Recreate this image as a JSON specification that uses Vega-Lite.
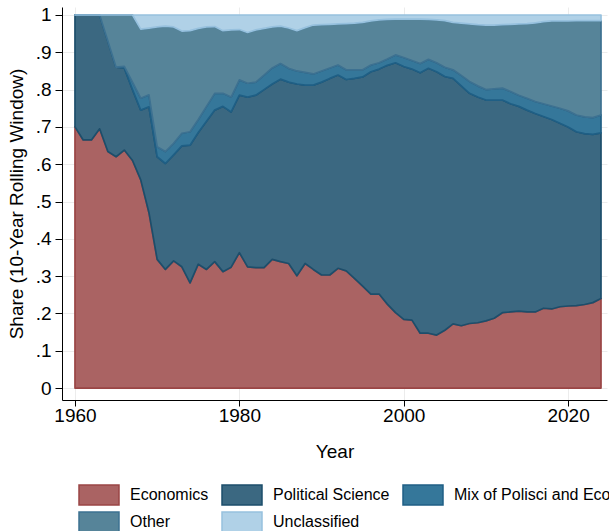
{
  "$schema": "https://vega.github.io/schema/vega-lite/v6.json",
  "autosize": {"type": "none"},
  "width": 545,
  "height": 393,
  "padding": {"left": 62, "top": 7, "right": 2, "bottom": 131},
  "background": "white",
  "config": {
    "view": {"stroke": null},
    "font": "Liberation Sans",
    "axis": {"labelFont": "Liberation Sans", "titleFont": "Liberation Sans", "labelColor": "black", "titleColor": "black", "titleFontWeight": "normal", "domainColor": "black", "tickColor": "black", "gridColor": "#ececec", "gridWidth": 1}
  },
  "data": {"values": [
    {"year":1960,"Economics":0.70,"Political Science":0.30,"Mix of Polisci and Eco":0,"Other":0,"Unclassified":0},
    {"year":1961,"Economics":0.665,"Political Science":0.335,"Mix of Polisci and Eco":0,"Other":0,"Unclassified":0},
    {"year":1962,"Economics":0.665,"Political Science":0.335,"Mix of Polisci and Eco":0,"Other":0,"Unclassified":0},
    {"year":1963,"Economics":0.695,"Political Science":0.305,"Mix of Polisci and Eco":0,"Other":0,"Unclassified":0},
    {"year":1964,"Economics":0.634,"Political Science":0.296,"Mix of Polisci and Eco":0,"Other":0.07,"Unclassified":0},
    {"year":1965,"Economics":0.62,"Political Science":0.24,"Mix of Polisci and Eco":0,"Other":0.14,"Unclassified":0},
    {"year":1966,"Economics":0.638,"Political Science":0.22,"Mix of Polisci and Eco":0.004,"Other":0.138,"Unclassified":0},
    {"year":1967,"Economics":0.61,"Political Science":0.19,"Mix of Polisci and Eco":0.02,"Other":0.18,"Unclassified":0},
    {"year":1968,"Economics":0.558,"Political Science":0.187,"Mix of Polisci and Eco":0.032,"Other":0.185,"Unclassified":0.038},
    {"year":1969,"Economics":0.47,"Political Science":0.284,"Mix of Polisci and Eco":0.032,"Other":0.179,"Unclassified":0.035},
    {"year":1970,"Economics":0.345,"Political Science":0.275,"Mix of Polisci and Eco":0.027,"Other":0.321,"Unclassified":0.032},
    {"year":1971,"Economics":0.318,"Political Science":0.284,"Mix of Polisci and Eco":0.032,"Other":0.336,"Unclassified":0.03},
    {"year":1972,"Economics":0.341,"Political Science":0.284,"Mix of Polisci and Eco":0.031,"Other":0.312,"Unclassified":0.032},
    {"year":1973,"Economics":0.325,"Political Science":0.324,"Mix of Polisci and Eco":0.034,"Other":0.274,"Unclassified":0.043},
    {"year":1974,"Economics":0.282,"Political Science":0.369,"Mix of Polisci and Eco":0.036,"Other":0.271,"Unclassified":0.042},
    {"year":1975,"Economics":0.332,"Political Science":0.353,"Mix of Polisci and Eco":0.035,"Other":0.244,"Unclassified":0.036},
    {"year":1976,"Economics":0.318,"Political Science":0.397,"Mix of Polisci and Eco":0.04,"Other":0.213,"Unclassified":0.032},
    {"year":1977,"Economics":0.339,"Political Science":0.406,"Mix of Polisci and Eco":0.045,"Other":0.179,"Unclassified":0.031},
    {"year":1978,"Economics":0.312,"Political Science":0.443,"Mix of Polisci and Eco":0.035,"Other":0.168,"Unclassified":0.042},
    {"year":1979,"Economics":0.324,"Political Science":0.416,"Mix of Polisci and Eco":0.04,"Other":0.18,"Unclassified":0.04},
    {"year":1980,"Economics":0.363,"Political Science":0.422,"Mix of Polisci and Eco":0.041,"Other":0.135,"Unclassified":0.039},
    {"year":1981,"Economics":0.325,"Political Science":0.455,"Mix of Polisci and Eco":0.037,"Other":0.136,"Unclassified":0.047},
    {"year":1982,"Economics":0.323,"Political Science":0.462,"Mix of Polisci and Eco":0.035,"Other":0.14,"Unclassified":0.04},
    {"year":1983,"Economics":0.323,"Political Science":0.477,"Mix of Polisci and Eco":0.039,"Other":0.125,"Unclassified":0.036},
    {"year":1984,"Economics":0.345,"Political Science":0.47,"Mix of Polisci and Eco":0.043,"Other":0.11,"Unclassified":0.032},
    {"year":1985,"Economics":0.339,"Political Science":0.489,"Mix of Polisci and Eco":0.042,"Other":0.10,"Unclassified":0.03},
    {"year":1986,"Economics":0.334,"Political Science":0.486,"Mix of Polisci and Eco":0.037,"Other":0.108,"Unclassified":0.035},
    {"year":1987,"Economics":0.301,"Political Science":0.514,"Mix of Polisci and Eco":0.035,"Other":0.108,"Unclassified":0.042},
    {"year":1988,"Economics":0.334,"Political Science":0.478,"Mix of Polisci and Eco":0.034,"Other":0.12,"Unclassified":0.034},
    {"year":1989,"Economics":0.318,"Political Science":0.494,"Mix of Polisci and Eco":0.03,"Other":0.131,"Unclassified":0.027},
    {"year":1990,"Economics":0.303,"Political Science":0.517,"Mix of Polisci and Eco":0.03,"Other":0.124,"Unclassified":0.026},
    {"year":1991,"Economics":0.303,"Political Science":0.527,"Mix of Polisci and Eco":0.028,"Other":0.117,"Unclassified":0.025},
    {"year":1992,"Economics":0.321,"Political Science":0.518,"Mix of Polisci and Eco":0.027,"Other":0.11,"Unclassified":0.024},
    {"year":1993,"Economics":0.314,"Political Science":0.513,"Mix of Polisci and Eco":0.026,"Other":0.124,"Unclassified":0.023},
    {"year":1994,"Economics":0.294,"Political Science":0.536,"Mix of Polisci and Eco":0.023,"Other":0.125,"Unclassified":0.022},
    {"year":1995,"Economics":0.273,"Political Science":0.561,"Mix of Polisci and Eco":0.019,"Other":0.127,"Unclassified":0.02},
    {"year":1996,"Economics":0.252,"Political Science":0.596,"Mix of Polisci and Eco":0.018,"Other":0.118,"Unclassified":0.016},
    {"year":1997,"Economics":0.252,"Political Science":0.603,"Mix of Polisci and Eco":0.017,"Other":0.115,"Unclassified":0.013},
    {"year":1998,"Economics":0.225,"Political Science":0.64,"Mix of Polisci and Eco":0.017,"Other":0.106,"Unclassified":0.012},
    {"year":1999,"Economics":0.202,"Political Science":0.67,"Mix of Polisci and Eco":0.021,"Other":0.096,"Unclassified":0.011},
    {"year":2000,"Economics":0.184,"Political Science":0.678,"Mix of Polisci and Eco":0.024,"Other":0.103,"Unclassified":0.011},
    {"year":2001,"Economics":0.182,"Political Science":0.673,"Mix of Polisci and Eco":0.023,"Other":0.111,"Unclassified":0.011},
    {"year":2002,"Economics":0.147,"Political Science":0.698,"Mix of Polisci and Eco":0.025,"Other":0.119,"Unclassified":0.011},
    {"year":2003,"Economics":0.147,"Political Science":0.71,"Mix of Polisci and Eco":0.024,"Other":0.107,"Unclassified":0.012},
    {"year":2004,"Economics":0.142,"Political Science":0.706,"Mix of Polisci and Eco":0.024,"Other":0.115,"Unclassified":0.013},
    {"year":2005,"Economics":0.155,"Political Science":0.68,"Mix of Polisci and Eco":0.025,"Other":0.125,"Unclassified":0.015},
    {"year":2006,"Economics":0.172,"Political Science":0.658,"Mix of Polisci and Eco":0.023,"Other":0.127,"Unclassified":0.02},
    {"year":2007,"Economics":0.167,"Political Science":0.643,"Mix of Polisci and Eco":0.028,"Other":0.14,"Unclassified":0.022},
    {"year":2008,"Economics":0.173,"Political Science":0.617,"Mix of Polisci and Eco":0.032,"Other":0.154,"Unclassified":0.024},
    {"year":2009,"Economics":0.175,"Political Science":0.605,"Mix of Polisci and Eco":0.03,"Other":0.164,"Unclassified":0.026},
    {"year":2010,"Economics":0.18,"Political Science":0.592,"Mix of Polisci and Eco":0.028,"Other":0.173,"Unclassified":0.027},
    {"year":2011,"Economics":0.187,"Political Science":0.585,"Mix of Polisci and Eco":0.03,"Other":0.171,"Unclassified":0.027},
    {"year":2012,"Economics":0.202,"Political Science":0.57,"Mix of Polisci and Eco":0.032,"Other":0.17,"Unclassified":0.026},
    {"year":2013,"Economics":0.204,"Political Science":0.558,"Mix of Polisci and Eco":0.033,"Other":0.18,"Unclassified":0.025},
    {"year":2014,"Economics":0.206,"Political Science":0.549,"Mix of Polisci and Eco":0.03,"Other":0.191,"Unclassified":0.024},
    {"year":2015,"Economics":0.204,"Political Science":0.541,"Mix of Polisci and Eco":0.032,"Other":0.20,"Unclassified":0.023},
    {"year":2016,"Economics":0.204,"Political Science":0.532,"Mix of Polisci and Eco":0.032,"Other":0.211,"Unclassified":0.021},
    {"year":2017,"Economics":0.214,"Political Science":0.514,"Mix of Polisci and Eco":0.034,"Other":0.22,"Unclassified":0.018},
    {"year":2018,"Economics":0.212,"Political Science":0.508,"Mix of Polisci and Eco":0.036,"Other":0.228,"Unclassified":0.016},
    {"year":2019,"Economics":0.218,"Political Science":0.492,"Mix of Polisci and Eco":0.04,"Other":0.234,"Unclassified":0.016},
    {"year":2020,"Economics":0.22,"Political Science":0.48,"Mix of Polisci and Eco":0.043,"Other":0.241,"Unclassified":0.016},
    {"year":2021,"Economics":0.221,"Political Science":0.466,"Mix of Polisci and Eco":0.045,"Other":0.253,"Unclassified":0.015},
    {"year":2022,"Economics":0.224,"Political Science":0.458,"Mix of Polisci and Eco":0.045,"Other":0.258,"Unclassified":0.015},
    {"year":2023,"Economics":0.229,"Political Science":0.451,"Mix of Polisci and Eco":0.045,"Other":0.26,"Unclassified":0.015},
    {"year":2024,"Economics":0.24,"Political Science":0.444,"Mix of Polisci and Eco":0.048,"Other":0.253,"Unclassified":0.015}
  ]},
  "transform": [
    {"fold": ["Economics", "Political Science", "Mix of Polisci and Eco", "Other", "Unclassified"], "as": ["field", "share"]},
    {"lookup": "field", "from": {"data": {"values": [
      {"field": "Economics", "rank": 1},
      {"field": "Political Science", "rank": 2},
      {"field": "Mix of Polisci and Eco", "rank": 3},
      {"field": "Other", "rank": 4},
      {"field": "Unclassified", "rank": 5}
    ]}, "key": "field", "fields": ["rank"]}}
  ],
  "mark": {"type": "area", "interpolate": "linear", "opacity": 1, "strokeWidth": 1.7, "strokeJoin": "round"},
  "encoding": {
    "x": {
      "field": "year", "type": "quantitative",
      "scale": {"domain": [1958.42, 2024.73], "nice": false, "zero": false},
      "axis": {"values": [1960, 1980, 2000, 2020], "format": "d", "title": "Year", "labelFontSize": 19, "titleFontSize": 19, "tickSize": 6, "labelPadding": 0, "titlePadding": 17, "grid": true}
    },
    "y": {
      "field": "share", "type": "quantitative", "stack": "zero",
      "scale": {"domain": [-0.032, 1.0214], "nice": false, "zero": false},
      "axis": {"values": [0, 0.1, 0.2, 0.3, 0.4, 0.5, 0.6, 0.7, 0.8, 0.9, 1], "labelExpr": "datum.value == 0 ? '0' : datum.value == 1 ? '1' : replace(format(datum.value, '.1f'), '0.', '.')", "title": "Share (10-Year Rolling Window)", "labelFontSize": 19, "titleFontSize": 19, "tickSize": 7, "labelPadding": 4, "titlePadding": 9, "grid": true}
    },
    "order": {"field": "rank", "type": "quantitative", "sort": "ascending"},
    "fill": {
      "field": "field", "type": "nominal",
      "sort": ["Economics", "Political Science", "Mix of Polisci and Eco", "Other", "Unclassified"],
      "scale": {"domain": ["Economics", "Political Science", "Mix of Polisci and Eco", "Other", "Unclassified"], "range": ["#aa6363", "#3b6881", "#35779a", "#568499", "#b0d1e7"]},
      "legend": {"title": null, "orient": "none", "legendX": 26, "legendY": 477, "direction": "horizontal", "columns": 3, "symbolType": "M-2,-1H2V1H-2Z", "symbolSize": 400, "symbolStrokeWidth": 1.5, "symbolOpacity": 1, "labelFontSize": 16, "labelFont": "Liberation Sans", "labelColor": "black", "labelOffset": 20, "columnPadding": 10, "rowPadding": 1, "labelLimit": 300}
    },
    "stroke": {
      "field": "field", "type": "nominal",
      "sort": ["Economics", "Political Science", "Mix of Polisci and Eco", "Other", "Unclassified"],
      "scale": {"domain": ["Economics", "Political Science", "Mix of Polisci and Eco", "Other", "Unclassified"], "range": ["#9a4545", "#1d4e6b", "#1f5f85", "#3d7191", "#97c1de"]},
      "legend": {"title": null, "orient": "none", "legendX": 26, "legendY": 477, "direction": "horizontal", "columns": 3, "symbolType": "M-2,-1H2V1H-2Z", "symbolSize": 400, "symbolStrokeWidth": 1.5, "symbolOpacity": 1, "labelFontSize": 16, "labelFont": "Liberation Sans", "labelColor": "black", "labelOffset": 20, "columnPadding": 10, "rowPadding": 1, "labelLimit": 300}
    }
  }
}
